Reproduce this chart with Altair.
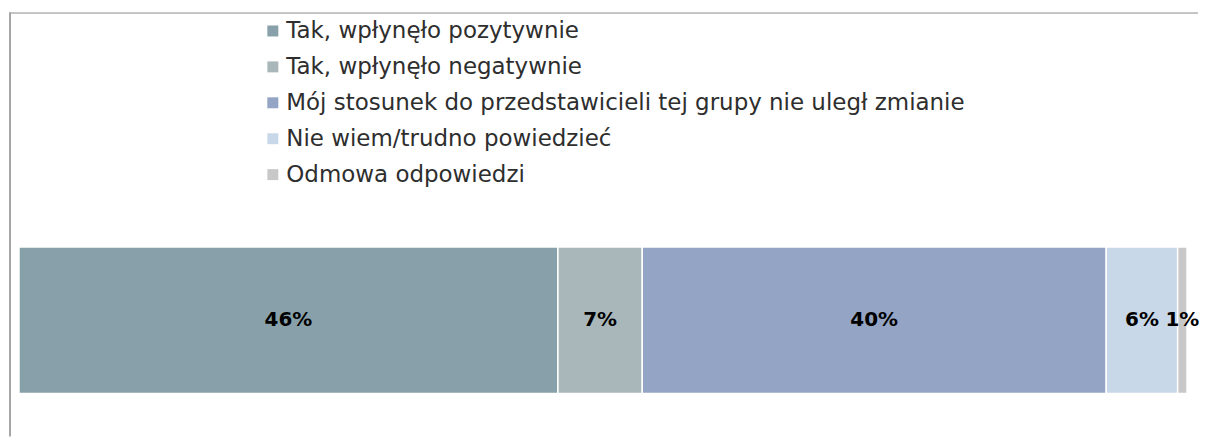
import altair as alt
import pandas as pd

categories = [
    "Tak, wpłynęło pozytywnie",
    "Tak, wpłynęło negatywnie",
    "Mój stosunek do przedstawicieli tej grupy nie uległ zmianie",
    "Nie wiem/trudno powiedzieć",
    "Odmowa odpowiedzi",
]
values = [46.0, 7.2, 39.6, 6.1, 0.8]
labels = ["46%", "7%", "40%", "6%", "1%"]
colors = ["#87A0AA", "#A9B7BA", "#93A4C4", "#C9D8E8", "#C8C8C8"]

df = pd.DataFrame({
    "cat": categories,
    "value": values,
    "label": labels,
    "idx": list(range(len(categories))),
    "row": ["all"] * len(categories),
})

W, H = 1192, 429
xscale = alt.Scale(domain=[0, sum(values)], range=[10, 1181], nice=False, zero=True)
yscale = alt.Scale(range=[239, 386], paddingInner=0, paddingOuter=0)

base = alt.Chart(df).transform_stack(
    stack="value", as_=["x0", "x1"], groupby=["row"], sort=[alt.SortField("idx")]
).transform_calculate(mid="(datum.x0 + datum.x1) / 2")

bars = base.mark_bar(stroke="white", strokeWidth=1.5).encode(
    x=alt.X("x0:Q", scale=xscale, axis=None),
    x2="x1:Q",
    y=alt.Y("row:N", scale=yscale, axis=None),
    color=alt.Color(
        "cat:N",
        scale=alt.Scale(domain=categories, range=colors),
        sort=categories,
        legend=alt.Legend(
            title=None,
            orient="none",
            legendX=253,
            legendY=11,
            direction="vertical",
            symbolType="square",
            symbolSize=121,
            symbolStrokeWidth=0,
            labelFont="DejaVu Sans",
            labelFontSize=23,
            labelColor="#2E2E2E",
            labelOffset=2,
            rowPadding=12,
            padding=0,
            labelLimit=1000,
        ),
    ),
)

text = base.mark_text(
    font="DejaVu Sans", fontSize=20, fontWeight="bold", color="black", baseline="middle"
).encode(
    x=alt.X("mid:Q", scale=xscale, axis=None),
    y=alt.Y("row:N", scale=yscale, axis=None),
    text="label:N",
)

frame = pd.DataFrame({"a": [0]})
top_line = alt.Chart(frame).mark_rule(color="#8C8C8C", strokeWidth=1).encode(
    x=alt.value(0), x2=alt.value(W), y=alt.value(4.5)
)
left_line = alt.Chart(frame).mark_rule(color="#A6A6A6", strokeWidth=2).encode(
    x=alt.value(1), y=alt.value(4), y2=alt.value(H)
)

chart = alt.layer(top_line, left_line, bars, text).properties(
    width=W, height=H, padding={"left": 0, "top": 0, "right": 0, "bottom": 0}
).configure_view(stroke=None)

chart.save("out.html", embed_options={"renderer": "svg", "actions": False})
